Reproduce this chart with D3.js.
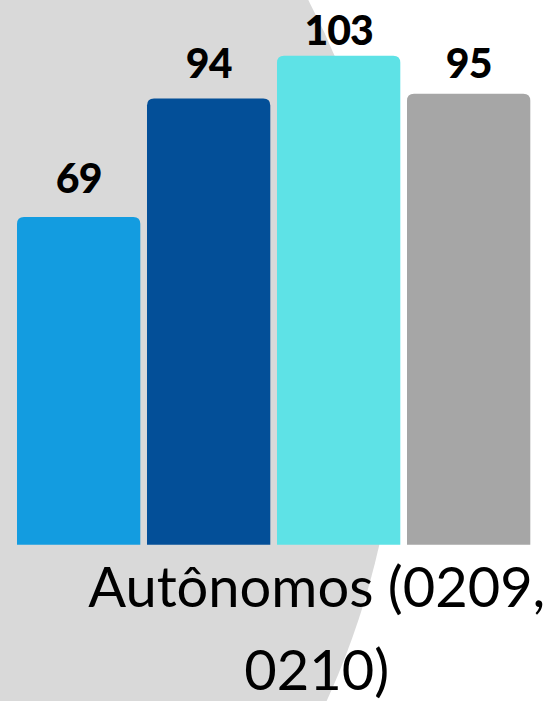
<!DOCTYPE html>
<html>
<head>
<meta charset="utf-8">
<script src="https://cdn.jsdelivr.net/npm/d3@7"></script>
<style>
  html, body { margin: 0; padding: 0; background: #ffffff; }
  svg { display: block; }
</style>
</head>
<body>
<script>
// Chart data
const categoryLines = ["Autônomos (0209,", "0210)"];
const series = ["s1", "s2", "s3", "s4"];
const values = [69, 94, 103, 95];
const colors = ["#139ce0", "#034f98", "#5ee2e6", "#a6a6a6"];
// vertical gap between each bar top and its value label
const labelLift = [24.3, 20, 10.7, 15.4];

const W = 554, H = 701;
const svg = d3.select("body").append("svg")
  .attr("width", W).attr("height", H);

// Decorative grey disc behind the plot
svg.append("circle")
  .attr("cx", -398.6).attr("cy", 369.2).attr("r", 797.5)
  .attr("fill", "#d9d9d9");

const x = d3.scaleBand()
  .domain(series)
  .range([17, 530.3])
  .paddingInner(0.0515)
  .paddingOuter(0);

const y = d3.scaleLinear()
  .domain([0, 103])
  .range([544.7, 55.7]);

const r = 7;
function topRounded(x0, y0, w, h) {
  const rr = Math.min(r, w / 2, h);
  return `M${x0},${y0 + h}` +
    `V${y0 + rr}` +
    `Q${x0},${y0} ${x0 + rr},${y0}` +
    `H${x0 + w - rr}` +
    `Q${x0 + w},${y0} ${x0 + w},${y0 + rr}` +
    `V${y0 + h}Z`;
}

const data = series.map((s, i) => ({ key: s, value: values[i], color: colors[i], lift: labelLift[i] }));

svg.append("g").selectAll("path")
  .data(data)
  .join("path")
  .attr("d", d => topRounded(x(d.key), y(d.value), x.bandwidth(), y(0) - y(d.value)))
  .attr("fill", d => d.color);

// Value labels above bars
svg.append("g").selectAll("text")
  .data(data)
  .join("text")
  .attr("x", d => x(d.key) + x.bandwidth() / 2)
  .attr("y", d => y(d.value) - d.lift)
  .attr("text-anchor", "middle")
  .attr("font-family", "Lato, 'Open Sans', sans-serif")
  .attr("font-weight", 900)
  .attr("font-size", 41)
  .attr("letter-spacing", -1)
  .attr("fill", "#000")
  .text(d => d.value);

// Category label, wrapped on two lines
const lab = svg.append("text")
  .attr("text-anchor", "middle")
  .attr("font-family", "Lato, 'Open Sans', sans-serif")
  .attr("font-size", 56)
  .attr("fill", "#000");
lab.selectAll("tspan")
  .data(categoryLines)
  .join("tspan")
  .attr("x", 316.8)
  .attr("y", (d, i) => 606.7 + i * 83.3)
  .text(d => d);
</script>
</body>
</html>
